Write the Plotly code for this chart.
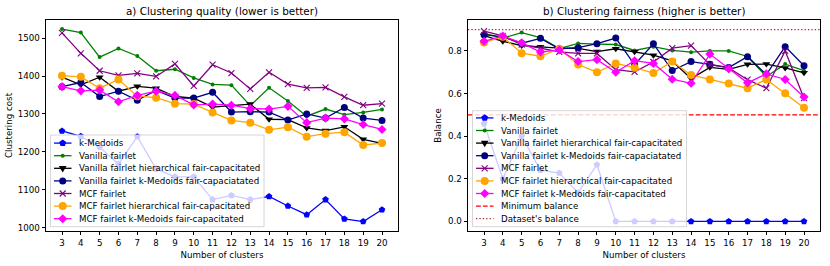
import plotly.graph_objects as go
import math

# ---------------- data ----------------
clusters = [3, 4, 5, 6, 7, 8, 9, 10, 11, 12, 13, 14, 15, 16, 17, 18, 19, 20]

cost_kmedoids = [1255, 1241, 1212, 1168, 1240, 1155, 1134, 1134, 1074, 1085, 1074, 1082, 1057, 1034, 1074, 1023, 1016, 1047]
cost_vanilla = [1524, 1515, 1450, 1473, 1453, 1414, 1418, 1395, 1378, 1376, 1322, 1369, 1334, 1294, 1313, 1298, 1304, 1312]
cost_vanilla_hier = [1397, 1377, 1397, 1360, 1373, 1368, 1346, 1342, 1318, 1321, 1326, 1286, 1285, 1263, 1256, 1266, 1233, 1222]
cost_vanilla_kmed = [1372, 1383, 1346, 1360, 1336, 1362, 1342, 1342, 1357, 1305, 1306, 1305, 1284, 1300, 1289, 1317, 1289, 1283]
cost_mcf = [1514, 1460, 1414, 1402, 1407, 1399, 1432, 1374, 1430, 1408, 1366, 1410, 1379, 1369, 1370, 1345, 1323, 1327]
cost_mcf_hier = [1401, 1398, 1368, 1391, 1347, 1343, 1327, 1326, 1304, 1283, 1277, 1258, 1265, 1240, 1248, 1252, 1218, 1223]
cost_mcf_kmed = [1372, 1361, 1363, 1332, 1349, 1360, 1349, 1324, 1326, 1323, 1314, 1313, 1320, 1277, 1289, 1287, 1272, 1259]

bal_kmedoids = [0.459, 0.2, 0.4, 0.24, 0.227, 0.135, 0.266, 0, 0, 0, 0, 0, 0, 0, 0, 0, 0, 0]
bal_vanilla = [0.882, 0.86, 0.886, 0.862, 0.811, 0.835, 0.832, 0.83, 0.802, 0.82, 0.802, 0.794, 0.8, 0.8, 0.774, 0.68, 0.738, 0.707]
bal_vanilla_hier = [0.872, 0.845, 0.825, 0.82, 0.813, 0.812, 0.797, 0.81, 0.796, 0.78, 0.753, 0.67, 0.723, 0.713, 0.737, 0.738, 0.72, 0.697]
bal_vanilla_kmed = [0.876, 0.866, 0.836, 0.859, 0.81, 0.815, 0.834, 0.86, 0.735, 0.833, 0.708, 0.75, 0.737, 0.722, 0.773, 0.689, 0.82, 0.73]
bal_mcf = [0.893, 0.87, 0.83, 0.813, 0.795, 0.788, 0.788, 0.712, 0.702, 0.748, 0.813, 0.825, 0.735, 0.72, 0.665, 0.625, 0.8, 0.578]
bal_mcf_hier = [0.84, 0.866, 0.789, 0.775, 0.81, 0.736, 0.7, 0.741, 0.721, 0.696, 0.75, 0.687, 0.666, 0.647, 0.625, 0.666, 0.601, 0.533]
bal_mcf_kmed = [0.845, 0.87, 0.838, 0.795, 0.805, 0.75, 0.759, 0.7, 0.754, 0.741, 0.667, 0.648, 0.785, 0.716, 0.65, 0.692, 0.666, 0.584]

MIN_BALANCE = 0.5
DATASET_BALANCE = 0.9

series_names = [
    "k-Medoids",
    "Vanilla fairlet",
    "Vanilla fairlet hierarchical fair-capacitated",
    "Vanilla fairlet k-Medoids fair-capaciatated",
    "MCF fairlet",
    "MCF fairlet hierarchical fair-capacitated",
    "MCF fairlet k-Medoids fair-capacitated",
]
cost_series = [cost_kmedoids, cost_vanilla, cost_vanilla_hier, cost_vanilla_kmed,
               cost_mcf, cost_mcf_hier, cost_mcf_kmed]
bal_series = [bal_kmedoids, bal_vanilla, bal_vanilla_hier, bal_vanilla_kmed,
              bal_mcf, bal_mcf_hier, bal_mcf_kmed]

x_ticks = clusters
cost_ticks = [1000, 1100, 1200, 1300, 1400, 1500]
bal_ticks = [0.0, 0.2, 0.4, 0.6, 0.8]

# ---------------- styles ----------------
colors = ["#0000ff", "#008000", "#000000", "#000080", "#800080", "#ffa500", "#ff00ff"]
symbols = ["pentagon", "circle", "triangle-down", "circle", "x-thin", "circle", "diamond"]
msizes = [7, 4, 7, 7, 6, 8, 7]
LW = 1.3
FONT = "DejaVu Sans"
TICK_FS = 8.7
TITLE_FS = 10.4

W, H = 830, 266
ML, MR, MT, MB = 46, 10, 20, 35
PW, PH = W - ML - MR, H - MT - MB


def px(xp):
    return (xp - ML) / PW


def py(yp):
    return (H - MB - yp) / PH


fig = go.Figure()


def marker_dict(i):
    m = dict(symbol=symbols[i], size=msizes[i], color=colors[i])
    if symbols[i] == "x-thin":
        m["line"] = dict(color=colors[i], width=1.1)
    else:
        m["line"] = dict(width=0)
    return m


for i, name in enumerate(series_names):
    fig.add_trace(go.Scatter(x=clusters, y=cost_series[i], mode="lines+markers", name=name,
                             line=dict(color=colors[i], width=LW), marker=marker_dict(i),
                             xaxis="x", yaxis="y", showlegend=False))
for i, name in enumerate(series_names):
    fig.add_trace(go.Scatter(x=clusters, y=bal_series[i], mode="lines+markers", name=name,
                             line=dict(color=colors[i], width=LW), marker=marker_dict(i),
                             xaxis="x2", yaxis="y2", showlegend=False))

# reference lines (axhline-like)
fig.add_shape(type="line", xref="x2 domain", yref="y2", x0=0, x1=1, y0=MIN_BALANCE, y1=MIN_BALANCE,
              line=dict(color="#ff0000", width=LW, dash="4.8px,2.1px"), layer="above")
fig.add_shape(type="line", xref="x2 domain", yref="y2", x0=0, x1=1, y0=DATASET_BALANCE, y1=DATASET_BALANCE,
              line=dict(color="#a52a2a", width=LW, dash="1.3px,2.1px"), layer="above")

axis_common = dict(showline=True, mirror=True, linecolor="black", linewidth=0.8,
                   ticks="outside", ticklen=3.5, tickwidth=0.8, tickcolor="black",
                   showgrid=False, zeroline=False,
                   tickfont=dict(family=FONT, size=TICK_FS, color="black"))

fig.update_layout(
    width=W, height=H,
    margin=dict(l=ML, r=MR, t=MT, b=MB, autoexpand=False),
    paper_bgcolor="white", plot_bgcolor="white",
    showlegend=False,
    font=dict(family=FONT, size=TICK_FS, color="black"),
    xaxis=dict(domain=[px(46), px(398)], range=[2.15, 20.85], tickmode="array", tickvals=x_ticks,
               anchor="y", automargin=False,
               title=dict(text="Number of clusters", font=dict(family=FONT, size=TICK_FS), standoff=5),
               **axis_common),
    yaxis=dict(domain=[0, 1], range=[991, 1548], tickmode="array", tickvals=cost_ticks,
               anchor="x", automargin=False,
               title=dict(text="Clustering cost", font=dict(family=FONT, size=TICK_FS), standoff=3),
               **axis_common),
    xaxis2=dict(domain=[px(468), px(820)], range=[2.15, 20.85], tickmode="array", tickvals=x_ticks,
                anchor="y2", automargin=False,
                title=dict(text="Number of clusters", font=dict(family=FONT, size=TICK_FS), standoff=5),
                **axis_common),
    yaxis2=dict(domain=[0, 1], range=[-0.045, 0.945], tickmode="array", tickvals=bal_ticks,
                tickformat=".1f", anchor="x2", automargin=False,
                title=dict(text="Balance", font=dict(family=FONT, size=TICK_FS), standoff=4),
                **axis_common),
)

# subplot titles
for cx, txt in [((46 + 398) / 2, "a) Clustering quality (lower is better)"),
                ((468 + 820) / 2, "b) Clustering fairness (higher is better)")]:
    fig.add_annotation(text=txt, xref="paper", yref="paper", x=px(cx), y=py(11.3),
                       xanchor="center", yanchor="middle", showarrow=False,
                       font=dict(family=FONT, size=TITLE_FS, color="black"))


# ---------------- custom compact legend (matplotlib-like) ----------------
def path_from(points):
    return "M " + " L ".join(f"{px(a):.6f},{py(b):.6f}" for a, b in points) + " Z"


def add_glyph(kind, cx, cy, color, size):
    r = size / 2
    if kind == "circle":
        fig.add_shape(type="circle", xref="paper", yref="paper",
                      x0=px(cx - r), x1=px(cx + r), y0=py(cy + r), y1=py(cy - r),
                      fillcolor=color, line=dict(width=0), layer="above")
    elif kind == "pentagon":
        pts = [(cx + r * 1.05 * math.cos(math.radians(-90 + 72 * k)),
                cy + r * 1.05 * math.sin(math.radians(-90 + 72 * k))) for k in range(5)]
        fig.add_shape(type="path", xref="paper", yref="paper", path=path_from(pts),
                      fillcolor=color, line=dict(width=0), layer="above")
    elif kind == "triangle-down":
        rt = r * 1.1
        pts = [(cx - rt, cy - rt * 0.6), (cx + rt, cy - rt * 0.6), (cx, cy + rt * 1.1)]
        fig.add_shape(type="path", xref="paper", yref="paper", path=path_from(pts),
                      fillcolor=color, line=dict(width=0), layer="above")
    elif kind == "diamond":
        rd = r * 1.3
        pts = [(cx, cy - rd), (cx + rd, cy), (cx, cy + rd), (cx - rd, cy)]
        fig.add_shape(type="path", xref="paper", yref="paper", path=path_from(pts),
                      fillcolor=color, line=dict(width=0), layer="above")
    elif kind == "x-thin":
        for s in (1, -1):
            fig.add_shape(type="line", xref="paper", yref="paper",
                          x0=px(cx - r), x1=px(cx + r), y0=py(cy - s * r), y1=py(cy + s * r),
                          line=dict(color=color, width=1.1), layer="above")


def add_legend(box_left, box_top, box_right, box_bottom, entries, row0, step):
    fig.add_shape(type="rect", xref="paper", yref="paper",
                  x0=px(box_left), x1=px(box_right), y0=py(box_bottom), y1=py(box_top),
                  fillcolor="rgba(255,255,255,0.8)", line=dict(color="#cccccc", width=0.8),
                  layer="above")
    for i, e in enumerate(entries):
        cy = row0 + i * step
        fig.add_shape(type="line", xref="paper", yref="paper",
                      x0=px(box_left + 3.5), x1=px(box_left + 21), y0=py(cy), y1=py(cy),
                      line=dict(color=e["color"], width=LW, dash=e.get("dash", "solid")),
                      layer="above")
        if e.get("symbol"):
            add_glyph(e["symbol"], box_left + 12.2, cy, e["color"], e["size"])
        fig.add_annotation(text=e["name"], xref="paper", yref="paper",
                           x=px(box_left + 27.5), y=py(cy), xanchor="left", yanchor="middle",
                           showarrow=False, borderpad=0,
                           font=dict(family=FONT, size=TICK_FS, color="black"))


series_entries = [dict(name=series_names[i], color=colors[i], symbol=symbols[i], size=msizes[i])
                  for i in range(len(series_names))]
add_legend(50.5, 135, 264, 226.7, series_entries, 143.1, 12.6)
add_legend(472.5, 110.7, 686.5, 226.7,
           series_entries + [dict(name="Minimum balance", color="#ff0000", dash="4.8px,2.1px"),
                             dict(name="Dataset's balance", color="#a52a2a", dash="1.3px,2.1px")],
           117.9, 12.6)

fig.write_html("out.html", config={"displayModeBar": False},
               post_script="document.body.style.margin='0';document.body.style.overflow='hidden';")
